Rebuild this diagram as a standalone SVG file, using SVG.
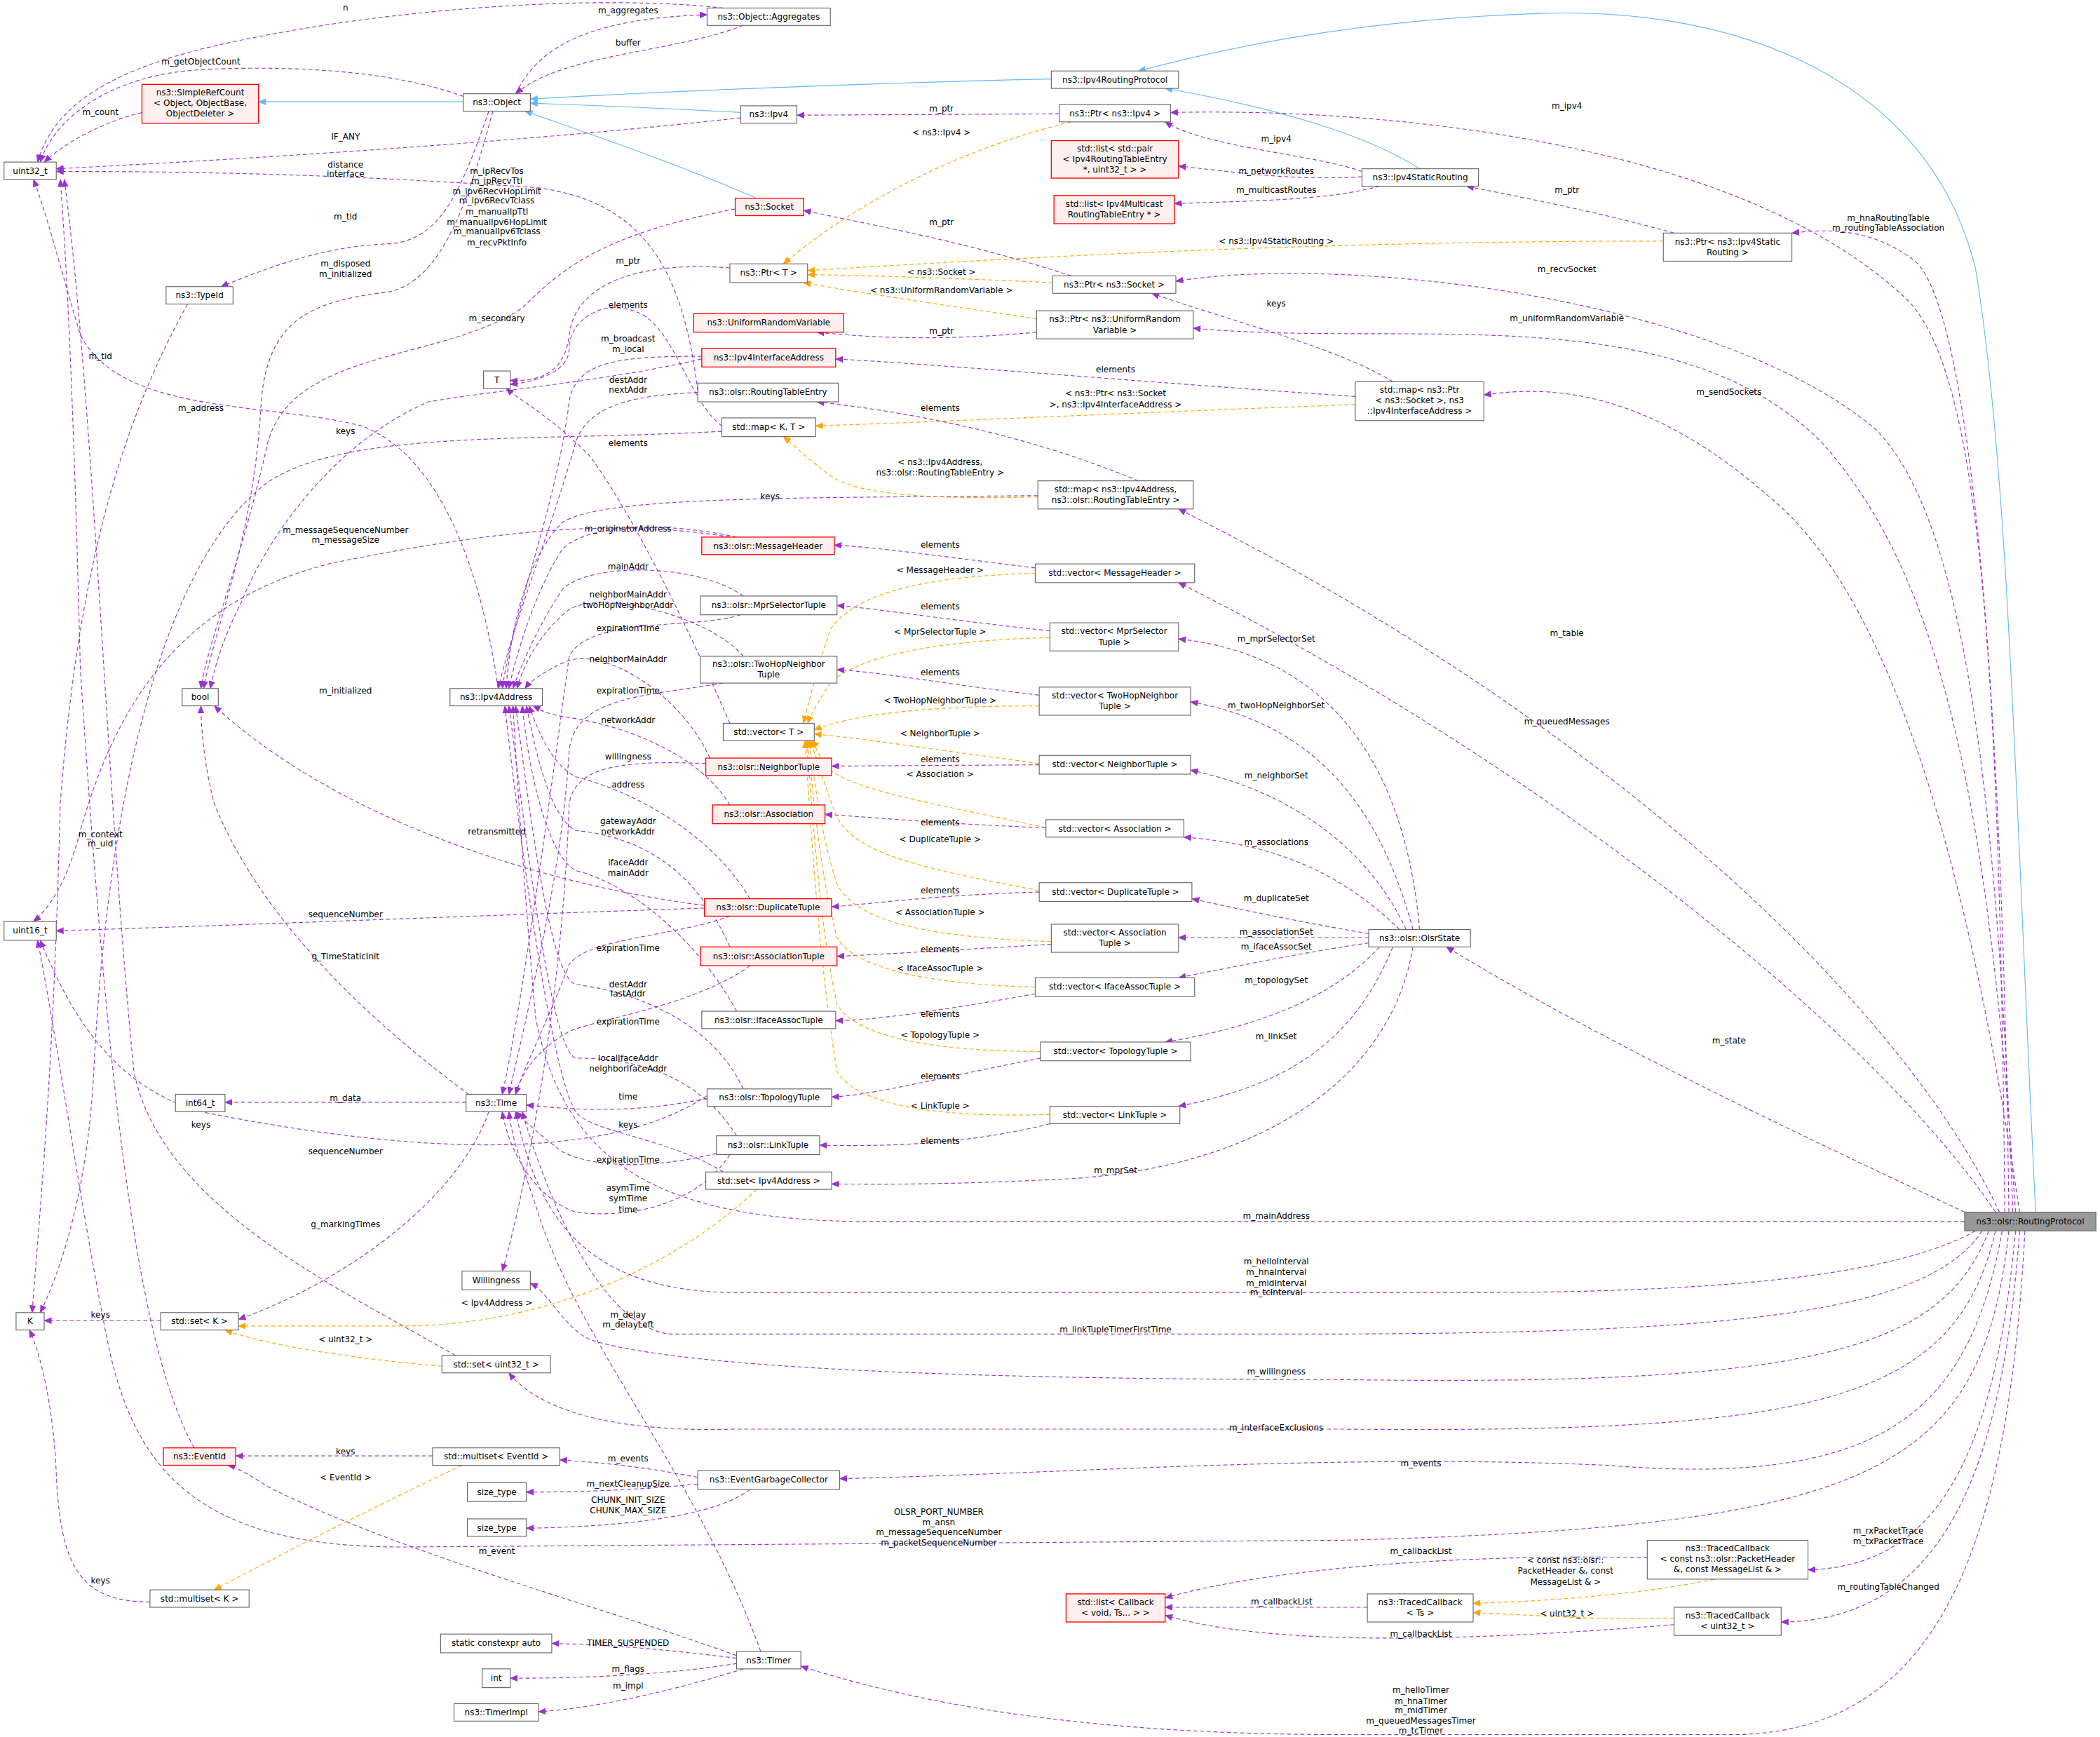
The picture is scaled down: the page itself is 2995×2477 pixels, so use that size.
<svg xmlns="http://www.w3.org/2000/svg" width="2995" height="2477" viewBox="0 0 2995 2477">
<style>
.n rect{fill:#fff;stroke:#666;stroke-width:0.6}
.r rect{fill:#fff0f0;stroke:#f00;stroke-width:0.7}
.g rect{fill:#999;stroke:#666;stroke-width:0.6}
text{font-family:"DejaVu Sans",sans-serif;font-size:6.3px;fill:#000;text-anchor:middle}
.e path{fill:none;stroke-width:0.6}
.p{stroke:#9a32cd;stroke-dasharray:3,2}
.o{stroke:#ffa500;stroke-dasharray:3,2}
.b{stroke:#63b8ff}
</style>
<defs>
<marker id="ap" markerWidth="6" markerHeight="5" refX="5.5" refY="2.5" orient="auto" markerUnits="userSpaceOnUse"><path d="M0,0 L6,2.5 L0,5 Z" fill="#9a32cd"/></marker>
<marker id="ao" markerWidth="6" markerHeight="5" refX="5.5" refY="2.5" orient="auto" markerUnits="userSpaceOnUse"><path d="M0,0 L6,2.5 L0,5 Z" fill="#ffa500"/></marker>
<marker id="ab" markerWidth="6" markerHeight="5" refX="5.5" refY="2.5" orient="auto" markerUnits="userSpaceOnUse"><path d="M0,0 L6,2.5 L0,5 Z" fill="#63b8ff"/></marker>
</defs>
<rect width="2995" height="2477" fill="#fff"/>
<g transform="scale(1.91)">
<g id="edges" class="e">
<path class="b" marker-end="url(#ab)" d="M346,76 L193,76"/>
<path class="b" marker-end="url(#ab)" d="M553,84 C500,81 450,79 396,77"/>
<path class="b" marker-end="url(#ab)" d="M785,59 C650,62 500,68 396,74"/>
<path class="b" marker-end="url(#ab)" d="M565,148 C500,120 440,100 392,83"/>
<path class="b" marker-end="url(#ab)" d="M1060,126 C1020,100 950,80 870,66"/>
<path class="b" marker-end="url(#ab)" d="M1520,905 C1505,600 1500,350 1475,200 C1440,60 1300,5 1150,10 C1000,15 900,40 850,53"/>
<g marker-end="url(#ap)">
<path class="p" d="M540,6 C450,-4 300,5 180,30 C80,50 40,80 28,121"/>
<path class="p" d="M385,70 C400,40 430,14 528,11"/>
<path class="p" d="M555,19 C500,40 420,40 385,70"/>
<path class="p" d="M346,72 C300,55 230,48 150,52 C80,56 40,90 30,121"/>
<path class="p" d="M106,84 C80,90 50,105 33,121"/>
<path class="p" d="M553,88 C400,105 200,118 42,126"/>
<path class="p" d="M521,292 C510,200 480,150 400,140 C250,130 150,128 42,128"/>
<path class="p" d="M365,83 C345,140 330,180 290,182 C240,184 200,200 165,214"/>
<path class="p" d="M368,83 C350,150 330,210 290,218 C230,225 200,240 195,300 C190,400 160,470 152,514"/>
<path class="p" d="M549,156 C450,175 420,200 390,230 C330,270 220,260 200,330 C180,420 155,480 150,514"/>
<path class="p" d="M140,227 C100,300 60,400 45,600 C40,800 30,900 24,980"/>
<path class="p" d="M545,200 C480,195 430,210 425,250 C422,280 400,285 381,284"/>
<path class="p" d="M539,318 C515,300 505,250 480,235 C450,220 425,240 425,260 C425,278 400,285 381,287"/>
<path class="p" d="M545,540 C510,460 470,380 440,340 C410,310 390,300 378,290"/>
<path class="p" d="M524,266 C460,266 430,270 425,300 C415,380 385,450 375,514"/>
<path class="p" d="M521,293 C480,295 440,300 430,330 C410,400 385,460 372,514"/>
<path class="p" d="M524,268 C450,285 380,290 320,300 C250,330 200,400 180,450 C165,480 160,500 157,514"/>
<path class="p" d="M372,514 C360,430 330,340 270,318 C200,300 90,310 60,250 C45,200 35,160 25,134"/>
<path class="p" d="M539,322 C400,330 260,320 200,360 C120,420 80,600 70,800 C65,900 40,960 30,980"/>
<path class="p" d="M775,370 C600,372 450,370 420,390 C390,420 380,480 378,514"/>
<path class="p" d="M550,401 C500,390 440,390 420,410 C400,440 385,490 380,514"/>
<path class="p" d="M545,401 C450,385 350,400 250,420 C120,450 80,550 60,620 C50,660 35,680 25,688"/>
<path class="p" d="M555,445 C520,420 440,420 420,440 C400,470 388,500 383,514"/>
<path class="p" d="M555,490 C530,460 450,440 425,455 C400,475 390,500 386,514"/>
<path class="p" d="M553,459 C520,470 440,460 425,490 C410,600 390,750 375,817"/>
<path class="p" d="M530,566 C510,520 450,480 420,495 C400,505 395,510 392,514"/>
<path class="p" d="M540,510 C480,520 430,520 425,560 C420,650 395,750 380,817"/>
<path class="p" d="M545,601 C520,560 460,540 420,535 C405,532 400,528 398,527"/>
<path class="p" d="M527,570 C470,568 430,570 425,600 C420,750 390,900 375,949"/>
<path class="p" d="M560,671 C530,620 470,590 430,580 C410,570 400,540 395,527"/>
<path class="p" d="M526,676 C400,660 250,610 160,527"/>
<path class="p" d="M545,707 C520,650 480,625 430,620 C410,610 400,560 393,527"/>
<path class="p" d="M550,755 C520,700 470,660 430,650 C410,640 395,580 390,527"/>
<path class="p" d="M526,678 C400,682 200,690 42,695"/>
<path class="p" d="M545,684 C500,700 440,700 425,720 C410,760 390,800 385,817"/>
<path class="p" d="M350,817 C300,780 200,700 160,600 C152,570 150,540 150,527"/>
<path class="p" d="M555,813 C530,760 470,740 430,735 C410,730 395,600 385,527"/>
<path class="p" d="M560,721 C520,750 450,760 425,770 C400,785 390,800 385,817"/>
<path class="p" d="M550,848 C520,800 470,790 430,790 C410,785 390,600 380,527"/>
<path class="p" d="M528,820 C480,830 440,830 393,825"/>
<path class="p" d="M348,823 L168,823"/>
<path class="p" d="M540,875 C500,850 440,845 430,830 C410,800 385,600 377,527"/>
<path class="p" d="M340,1012 C250,960 120,900 100,800 C80,600 70,300 48,134"/>
<path class="p" d="M528,818 C450,870 300,860 150,830 C80,810 50,750 30,702"/>
<path class="p" d="M540,860 C480,875 440,870 420,860 C400,845 390,835 385,830"/>
<path class="p" d="M545,862 C520,900 470,910 430,905 C400,895 380,860 375,830"/>
<path class="p" d="M365,830 C340,900 250,960 178,985"/>
<path class="p" d="M120,986 L33,986"/>
<path class="p" d="M568,1233 C520,1100 430,1000 400,900 C390,870 382,850 380,830"/>
<path class="p" d="M145,1081 C100,1000 80,800 60,500 C55,300 50,200 45,134"/>
<path class="p" d="M323,1087 L176,1087"/>
<path class="p" d="M521,1103 C480,1095 450,1092 418,1090"/>
<path class="p" d="M521,1108 C480,1112 440,1114 393,1114"/>
<path class="p" d="M560,1112 C530,1135 450,1140 393,1141"/>
<path class="p" d="M550,1236 C450,1200 300,1160 200,1110 C185,1100 175,1095 170,1094"/>
<path class="p" d="M112,1196 C60,1196 45,1170 42,1100 C40,1050 30,1010 22,993"/>
<path class="p" d="M550,1238 C500,1232 460,1228 412,1227"/>
<path class="p" d="M550,1242 C500,1250 440,1253 381,1253"/>
<path class="p" d="M555,1246 C510,1260 450,1275 402,1278"/>
<path class="p" d="M791,85 L595,86"/>
<path class="p" d="M1017,128 C980,115 900,110 870,91"/>
<path class="p" d="M1017,132 C960,135 920,128 880,124"/>
<path class="p" d="M1030,139 C990,150 930,150 877,152"/>
<path class="p" d="M1250,174 C1200,160 1150,150 1095,139"/>
<path class="p" d="M800,206 C720,180 660,170 600,157"/>
<path class="p" d="M774,248 C700,255 650,252 610,248"/>
<path class="p" d="M1040,285 C1000,260 920,240 860,219"/>
<path class="p" d="M1012,296 C850,285 700,272 624,268"/>
<path class="p" d="M850,359 C780,330 700,310 610,300"/>
<path class="p" d="M773,424 C700,415 650,408 623,407"/>
<path class="p" d="M784,471 C700,462 660,455 625,452"/>
<path class="p" d="M776,519 C700,510 660,502 625,500"/>
<path class="p" d="M776,571 L621,572"/>
<path class="p" d="M781,618 C700,615 650,610 616,608"/>
<path class="p" d="M776,666 C700,668 650,675 621,677"/>
<path class="p" d="M785,705 C700,710 650,713 625,714"/>
<path class="p" d="M773,742 C700,755 650,762 624,762"/>
<path class="p" d="M777,790 C700,805 650,818 621,819"/>
<path class="p" d="M784,839 C720,855 660,856 612,855"/>
<path class="p" d="M1060,694 C1050,580 1000,490 880,477"/>
<path class="p" d="M1055,694 C1030,600 980,540 889,524"/>
<path class="p" d="M1050,694 C1020,630 960,590 889,575"/>
<path class="p" d="M1045,694 C1000,650 950,630 884,625"/>
<path class="p" d="M1022,697 C980,690 930,680 890,671"/>
<path class="p" d="M1022,700 L880,700"/>
<path class="p" d="M1022,704 C980,710 930,720 880,730"/>
<path class="p" d="M1030,707 C1000,740 950,765 870,778"/>
<path class="p" d="M1040,707 C1010,780 960,810 880,826"/>
<path class="p" d="M1055,707 C1040,800 950,870 800,880 C700,885 660,884 621,884"/>
<path class="p" d="M1497,905 C1493,500 1480,270 1420,220 C1300,110 1050,80 874,84"/>
<path class="p" d="M1500,905 C1495,500 1470,230 1430,195 C1400,172 1370,170 1338,174"/>
<path class="p" d="M1503,905 C1490,550 1460,380 1400,320 C1280,220 1000,190 878,210"/>
<path class="p" d="M1505,905 C1485,600 1450,430 1360,330 C1250,220 1050,260 891,245"/>
<path class="p" d="M1508,905 C1475,680 1420,450 1320,370 C1240,300 1170,285 1108,295"/>
<path class="p" d="M1493,905 C1420,750 1200,540 880,380"/>
<path class="p" d="M1490,905 C1400,770 1150,570 880,435"/>
<path class="p" d="M1467,905 C1350,850 1200,780 1080,707"/>
<path class="p" d="M1467,912 L650,912 C480,912 420,860 400,760 C390,650 385,560 383,527"/>
<path class="p" d="M1475,919 C1420,950 1300,965 1100,965 L550,965 C430,965 400,900 385,830"/>
<path class="p" d="M1480,919 C1440,980 1300,995 1000,996 L500,996 C450,990 410,900 390,830"/>
<path class="p" d="M1485,919 C1450,1010 1350,1035 1000,1030 C700,1030 500,1020 440,1000 C420,990 410,965 396,958"/>
<path class="p" d="M1490,919 C1460,1050 1350,1070 1000,1067 L550,1067 C450,1070 400,1050 380,1025"/>
<path class="p" d="M1495,919 C1470,1060 1400,1110 1200,1094 C1000,1085 800,1100 627,1104"/>
<path class="p" d="M1500,919 C1480,1100 1400,1140 1000,1150 L300,1155 C150,1155 100,1100 80,1000 C60,900 40,760 28,702"/>
<path class="p" d="M1505,919 C1490,1080 1450,1170 1350,1172"/>
<path class="p" d="M1508,919 C1495,1100 1450,1210 1330,1211"/>
<path class="p" d="M1512,919 C1500,1150 1450,1290 1300,1295 L1000,1295 C800,1295 680,1270 598,1244"/>
<path class="p" d="M1230,1163 C1100,1160 950,1170 870,1193"/>
<path class="p" d="M1021,1200 L870,1200"/>
<path class="p" d="M1250,1213 C1100,1225 950,1230 870,1206"/>
</g>
<g marker-end="url(#ao)">
<path class="o" d="M800,91 C720,110 640,150 585,197"/>
<path class="o" d="M1242,180 C1000,180 800,190 603,202"/>
<path class="o" d="M786,211 C720,208 660,206 603,205"/>
<path class="o" d="M774,238 C720,230 650,220 600,211"/>
<path class="o" d="M1012,302 C850,308 700,315 609,318"/>
<path class="o" d="M775,371 C700,373 640,370 620,355 C600,340 590,330 585,326"/>
<path class="o" d="M565,888 C500,950 400,990 300,990 C240,990 200,990 178,990"/>
<path class="o" d="M330,1020 C270,1015 200,1005 168,993"/>
<path class="o" d="M345,1094 C290,1120 230,1150 160,1187"/>
<path class="o" d="M1280,1179 C1230,1190 1150,1196 1100,1197"/>
<path class="o" d="M1250,1208 C1200,1210 1150,1206 1100,1204"/>
<path class="o" d="M773,428 C700,430 640,440 620,470 C610,500 605,520 600,540"/>
<path class="o" d="M784,476 C700,478 640,490 620,510 C610,525 605,535 603,540"/>
<path class="o" d="M776,527 C700,527 640,532 608,545"/>
<path class="o" d="M776,570 C700,560 650,552 608,548"/>
<path class="o" d="M781,618 C700,600 630,590 615,570 C610,560 608,555 606,553"/>
<path class="o" d="M776,665 C700,650 640,640 625,610 C615,585 610,565 605,553"/>
<path class="o" d="M785,703 C700,700 640,690 625,660 C612,620 608,580 604,553"/>
<path class="o" d="M773,737 C700,735 640,725 625,700 C612,650 608,600 603,553"/>
<path class="o" d="M777,785 C700,785 640,775 625,750 C612,690 608,620 602,553"/>
<path class="o" d="M784,832 C700,835 640,825 625,800 C612,720 607,640 601,553"/>
</g>
</g>
<g id="labels">
<text x="258" y="8">n</text><text x="469" y="10">m_aggregates</text><text x="469" y="34">buffer</text>
<text x="150" y="48">m_getObjectCount</text><text x="75" y="86">m_count</text><text x="258" y="104">IF_ANY</text>
<text x="258" y="125">distance</text><text x="258" y="132">interface</text><text x="258" y="164">m_tid</text>
<text x="258" y="199">m_disposed</text><text x="258" y="207">m_initialized</text>
<text x="371" y="130">m_ipRecvTos</text><text x="371" y="137">m_ipRecvTtl</text><text x="371" y="145">m_ipv6RecvHopLimit</text><text x="371" y="152">m_ipv6RecvTclass</text><text x="371" y="160">m_manualIpTtl</text><text x="371" y="168">m_manualIpv6HopLimit</text><text x="371" y="175">m_manualIpv6Tclass</text><text x="371" y="183">m_recvPktInfo</text>
<text x="469" y="197">m_ptr</text><text x="469" y="230">elements</text><text x="371" y="240">m_secondary</text>
<text x="469" y="255">m_broadcast</text><text x="469" y="263">m_local</text><text x="75" y="268">m_tid</text>
<text x="469" y="286">destAddr</text><text x="469" y="293">nextAddr</text><text x="150" y="307">m_address</text>
<text x="258" y="324">keys</text><text x="469" y="333">elements</text><text x="575" y="373">keys</text>
<text x="258" y="398">m_messageSequenceNumber</text><text x="258" y="405">m_messageSize</text><text x="469" y="397">m_originatorAddress</text>
<text x="469" y="425">mainAddr</text><text x="469" y="446">neighborMainAddr</text><text x="469" y="454">twoHopNeighborAddr</text>
<text x="469" y="471">expirationTime</text><text x="469" y="494">neighborMainAddr</text><text x="469" y="518">expirationTime</text>
<text x="258" y="518">m_initialized</text><text x="469" y="540">networkAddr</text><text x="469" y="567">willingness</text>
<text x="469" y="588">address</text><text x="75" y="625">m_context</text><text x="75" y="632">m_uid</text><text x="371" y="623">retransmitted</text>
<text x="469" y="615">gatewayAddr</text><text x="469" y="623">networkAddr</text><text x="469" y="646">ifaceAddr</text><text x="469" y="654">mainAddr</text>
<text x="258" y="685">sequenceNumber</text><text x="469" y="710">expirationTime</text><text x="258" y="716">g_TimeStaticInit</text>
<text x="469" y="737">destAddr</text><text x="469" y="744">lastAddr</text><text x="469" y="765">expirationTime</text>
<text x="469" y="792">localIfaceAddr</text><text x="469" y="800">neighborIfaceAddr</text><text x="469" y="821">time</text>
<text x="258" y="822">m_data</text><text x="150" y="842">keys</text><text x="469" y="842">keys</text><text x="258" y="862">sequenceNumber</text>
<text x="469" y="868">expirationTime</text><text x="469" y="889">asymTime</text><text x="469" y="897">symTime</text><text x="469" y="905">time</text>
<text x="258" y="916">g_markingTimes</text><text x="469" y="984">m_delay</text><text x="469" y="991">m_delayLeft</text>
<text x="75" y="984">keys</text><text x="371" y="975">&lt; Ipv4Address &gt;</text><text x="258" y="1002">&lt; uint32_t &gt;</text>
<text x="258" y="1086">keys</text><text x="469" y="1091">m_events</text><text x="258" y="1105">&lt; EventId &gt;</text>
<text x="469" y="1110">m_nextCleanupSize</text><text x="469" y="1122">CHUNK_INIT_SIZE</text><text x="469" y="1130">CHUNK_MAX_SIZE</text>
<text x="371" y="1160">m_event</text><text x="75" y="1182">keys</text><text x="469" y="1229">TIMER_SUSPENDED</text>
<text x="469" y="1248">m_flags</text><text x="469" y="1261">m_impl</text>
<text x="703" y="83">m_ptr</text><text x="703" y="101">&lt; ns3::Ipv4 &gt;</text><text x="703" y="168">m_ptr</text>
<text x="703" y="205">&lt; ns3::Socket &gt;</text><text x="703" y="219">&lt; ns3::UniformRandomVariable &gt;</text><text x="703" y="249">m_ptr</text>
<text x="702" y="307">elements</text><text x="702" y="347">&lt; ns3::Ipv4Address,</text><text x="702" y="355">ns3::olsr::RoutingTableEntry &gt;</text>
<text x="702" y="409">elements</text><text x="702" y="428">&lt; MessageHeader &gt;</text><text x="702" y="455">elements</text>
<text x="702" y="474">&lt; MprSelectorTuple &gt;</text><text x="702" y="504">elements</text><text x="702" y="525">&lt; TwoHopNeighborTuple &gt;</text>
<text x="702" y="550">&lt; NeighborTuple &gt;</text><text x="702" y="569">elements</text><text x="702" y="580">&lt; Association &gt;</text>
<text x="702" y="616">elements</text><text x="702" y="629">&lt; DuplicateTuple &gt;</text><text x="702" y="667">elements</text>
<text x="702" y="683">&lt; AssociationTuple &gt;</text><text x="702" y="711">elements</text><text x="702" y="725">&lt; IfaceAssocTuple &gt;</text>
<text x="702" y="759">elements</text><text x="702" y="775">&lt; TopologyTuple &gt;</text><text x="702" y="806">elements</text>
<text x="702" y="828">&lt; LinkTuple &gt;</text><text x="702" y="854">elements</text>
<text x="953" y="106">m_ipv4</text><text x="953" y="130">m_networkRoutes</text><text x="953" y="144">m_multicastRoutes</text>
<text x="1170" y="144">m_ptr</text><text x="953" y="182">&lt; ns3::Ipv4StaticRouting &gt;</text><text x="1170" y="81">m_ipv4</text>
<text x="1410" y="165">m_hnaRoutingTable</text><text x="1410" y="172">m_routingTableAssociation</text>
<text x="1170" y="203">m_recvSocket</text><text x="953" y="229">keys</text><text x="1170" y="240">m_uniformRandomVariable</text>
<text x="833" y="278">elements</text><text x="833" y="296">&lt; ns3::Ptr&lt; ns3::Socket</text><text x="833" y="304">&gt;, ns3::Ipv4InterfaceAddress &gt;</text>
<text x="1291" y="295">m_sendSockets</text><text x="1170" y="475">m_table</text><text x="953" y="479">m_mprSelectorSet</text>
<text x="953" y="529">m_twoHopNeighborSet</text><text x="953" y="581">m_neighborSet</text><text x="953" y="631">m_associations</text>
<text x="953" y="673">m_duplicateSet</text><text x="953" y="698">m_associationSet</text><text x="953" y="709">m_ifaceAssocSet</text>
<text x="953" y="734">m_topologySet</text><text x="953" y="776">m_linkSet</text><text x="833" y="876">m_mprSet</text>
<text x="953" y="910">m_mainAddress</text><text x="1170" y="541">m_queuedMessages</text><text x="1291" y="779">m_state</text>
<text x="953" y="944">m_helloInterval</text><text x="953" y="952">m_hnaInterval</text><text x="953" y="960">m_midInterval</text><text x="953" y="967">m_tcInterval</text>
<text x="833" y="995">m_linkTupleTimerFirstTime</text><text x="953" y="1026">m_willingness</text><text x="953" y="1068">m_interfaceExclusions</text>
<text x="1061" y="1095">m_events</text>
<text x="701" y="1131">OLSR_PORT_NUMBER</text><text x="701" y="1139">m_ansn</text><text x="701" y="1146">m_messageSequenceNumber</text><text x="701" y="1154">m_packetSequenceNumber</text>
<text x="1410" y="1145">m_rxPacketTrace</text><text x="1410" y="1153">m_txPacketTrace</text><text x="1410" y="1187">m_routingTableChanged</text>
<text x="1061" y="1264">m_helloTimer</text><text x="1061" y="1272">m_hnaTimer</text><text x="1061" y="1279">m_midTimer</text><text x="1061" y="1287">m_queuedMessagesTimer</text><text x="1061" y="1294">m_tcTimer</text>
<text x="1061" y="1160">m_callbackList</text><text x="957" y="1198">m_callbackList</text><text x="1061" y="1222">m_callbackList</text>
<text x="1169" y="1167">&lt; const ns3::olsr::</text><text x="1169" y="1175">PacketHeader &amp;, const</text><text x="1169" y="1183">MessageList &amp; &gt;</text>
<text x="1170" y="1207">&lt; uint32_t &gt;</text>
</g>
<g id="n_aggr" class="n"><rect x="528" y="6" width="92" height="13"/><text x="574" y="14.7">ns3::Object::Aggregates</text></g>
<g id="n_object" class="n"><rect x="346" y="70" width="50" height="13"/><text x="371" y="78.7">ns3::Object</text></g>
<g id="n_src" class="r"><rect x="106" y="63" width="87" height="29"/><text x="149.5" y="71">ns3::SimpleRefCount</text><text x="149.5" y="79">&lt; Object, ObjectBase,</text><text x="149.5" y="87">ObjectDeleter &gt;</text></g>
<g id="n_u32" class="n"><rect x="3" y="121" width="39" height="13"/><text x="22.5" y="129.7">uint32_t</text></g>
<g id="n_ipv4" class="n"><rect x="553" y="79" width="42" height="13"/><text x="574" y="87.7">ns3::Ipv4</text></g>
<g id="n_socket" class="r"><rect x="549" y="148" width="51" height="13"/><text x="574.5" y="156.7">ns3::Socket</text></g>
<g id="n_typeid" class="n"><rect x="124" y="214" width="50" height="13"/><text x="149" y="222.7">ns3::TypeId</text></g>
<g id="n_ptrT" class="n"><rect x="545" y="197" width="58" height="14"/><text x="574" y="206">ns3::Ptr&lt; T &gt;</text></g>
<g id="n_urv" class="r"><rect x="518" y="234" width="112" height="14"/><text x="574" y="243">ns3::UniformRandomVariable</text></g>
<g id="n_iia" class="r"><rect x="524" y="260" width="100" height="14"/><text x="574" y="269">ns3::Ipv4InterfaceAddress</text></g>
<g id="n_T" class="n"><rect x="361" y="277" width="20" height="13"/><text x="371" y="285.7">T</text></g>
<g id="n_rte" class="n"><rect x="521" y="286" width="105" height="14"/><text x="573.5" y="295">ns3::olsr::RoutingTableEntry</text></g>
<g id="n_mapKT" class="n"><rect x="539" y="312" width="70" height="14"/><text x="574" y="321">std::map&lt; K, T &gt;</text></g>
<g id="n_mh" class="r"><rect x="524" y="401" width="99" height="13"/><text x="573.5" y="409.7">ns3::olsr::MessageHeader</text></g>
<g id="n_mst" class="n"><rect x="523" y="445" width="102" height="14"/><text x="574" y="454">ns3::olsr::MprSelectorTuple</text></g>
<g id="n_thn" class="n"><rect x="523" y="490" width="102" height="20"/><text x="574" y="498">ns3::olsr::TwoHopNeighbor</text><text x="574" y="506">Tuple</text></g>
<g id="n_bool" class="n"><rect x="136" y="514" width="27" height="13"/><text x="149.5" y="522.7">bool</text></g>
<g id="n_ipv4addr" class="n"><rect x="336" y="514" width="69" height="13"/><text x="370.5" y="522.7">ns3::Ipv4Address</text></g>
<g id="n_vecT" class="n"><rect x="540" y="540" width="68" height="13"/><text x="574" y="548.7">std::vector&lt; T &gt;</text></g>
<g id="n_nt" class="r"><rect x="527" y="566" width="94" height="13"/><text x="574" y="574.7">ns3::olsr::NeighborTuple</text></g>
<g id="n_asc" class="r"><rect x="532" y="601" width="84" height="14"/><text x="574" y="610">ns3::olsr::Association</text></g>
<g id="n_u16" class="n"><rect x="3" y="688" width="39" height="14"/><text x="22.5" y="697">uint16_t</text></g>
<g id="n_dt" class="r"><rect x="526" y="671" width="95" height="13"/><text x="573.5" y="679.7">ns3::olsr::DuplicateTuple</text></g>
<g id="n_at" class="r"><rect x="523" y="707" width="102" height="14"/><text x="574" y="716">ns3::olsr::AssociationTuple</text></g>
<g id="n_iat" class="n"><rect x="524" y="755" width="100" height="13"/><text x="574" y="763.7">ns3::olsr::IfaceAssocTuple</text></g>
<g id="n_i64" class="n"><rect x="131" y="817" width="37" height="13"/><text x="149.5" y="825.7">int64_t</text></g>
<g id="n_time" class="n"><rect x="348" y="817" width="45" height="13"/><text x="370.5" y="825.7">ns3::Time</text></g>
<g id="n_tt" class="n"><rect x="528" y="813" width="93" height="13"/><text x="574.5" y="821.7">ns3::olsr::TopologyTuple</text></g>
<g id="n_lt" class="n"><rect x="535" y="848" width="77" height="14"/><text x="573.5" y="857">ns3::olsr::LinkTuple</text></g>
<g id="n_setip" class="n"><rect x="527" y="875" width="94" height="13"/><text x="574" y="883.7">std::set&lt; Ipv4Address &gt;</text></g>
<g id="n_will" class="n"><rect x="345" y="949" width="51" height="14"/><text x="370.5" y="958">Willingness</text></g>
<g id="n_K" class="n"><rect x="12" y="980" width="21" height="13"/><text x="22.5" y="988.7">K</text></g>
<g id="n_setK" class="n"><rect x="120" y="980" width="58" height="13"/><text x="149" y="988.7">std::set&lt; K &gt;</text></g>
<g id="n_setu32" class="n"><rect x="330" y="1012" width="81" height="13"/><text x="370.5" y="1020.7">std::set&lt; uint32_t &gt;</text></g>
<g id="n_eid" class="r"><rect x="122" y="1081" width="54" height="13"/><text x="149" y="1089.7">ns3::EventId</text></g>
<g id="n_mseid" class="n"><rect x="323" y="1081" width="95" height="13"/><text x="370.5" y="1089.7">std::multiset&lt; EventId &gt;</text></g>
<g id="n_egc" class="n"><rect x="521" y="1098" width="106" height="14"/><text x="574" y="1107">ns3::EventGarbageCollector</text></g>
<g id="n_st1" class="n"><rect x="349" y="1107" width="44" height="14"/><text x="371" y="1116">size_type</text></g>
<g id="n_st2" class="n"><rect x="349" y="1134" width="44" height="13"/><text x="371" y="1142.7">size_type</text></g>
<g id="n_msK" class="n"><rect x="112" y="1187" width="74" height="13"/><text x="149" y="1195.7">std::multiset&lt; K &gt;</text></g>
<g id="n_sca" class="n"><rect x="329" y="1220" width="83" height="14"/><text x="370.5" y="1229">static constexpr auto</text></g>
<g id="n_timer" class="n"><rect x="550" y="1233" width="48" height="13"/><text x="574" y="1241.7">ns3::Timer</text></g>
<g id="n_int" class="n"><rect x="360" y="1246" width="21" height="14"/><text x="370.5" y="1255">int</text></g>
<g id="n_timpl" class="n"><rect x="339" y="1272" width="63" height="13"/><text x="370.5" y="1280.7">ns3::TimerImpl</text></g>
<g id="n_irp" class="n"><rect x="785" y="53" width="95" height="13"/><text x="832.5" y="61.7">ns3::Ipv4RoutingProtocol</text></g>
<g id="n_ptripv4" class="n"><rect x="791" y="78" width="83" height="13"/><text x="832.5" y="86.7">ns3::Ptr&lt; ns3::Ipv4 &gt;</text></g>
<g id="n_lpair" class="r"><rect x="785" y="105" width="95" height="28"/><text x="832.5" y="113">std::list&lt; std::pair</text><text x="832.5" y="121">&lt; Ipv4RoutingTableEntry</text><text x="832.5" y="129">*, uint32_t &gt; &gt;</text></g>
<g id="n_lmc" class="r"><rect x="787" y="146" width="90" height="21"/><text x="832" y="154.5">std::list&lt; Ipv4Multicast</text><text x="832" y="162.5">RoutingTableEntry * &gt;</text></g>
<g id="n_isr" class="n"><rect x="1017" y="126" width="87" height="13"/><text x="1060.5" y="134.7">ns3::Ipv4StaticRouting</text></g>
<g id="n_ptrisr" class="n"><rect x="1242" y="174" width="96" height="21"/><text x="1290" y="182.5">ns3::Ptr&lt; ns3::Ipv4Static</text><text x="1290" y="190.5">Routing &gt;</text></g>
<g id="n_ptrsock" class="n"><rect x="786" y="206" width="92" height="13"/><text x="832" y="214.7">ns3::Ptr&lt; ns3::Socket &gt;</text></g>
<g id="n_ptrurv" class="n"><rect x="774" y="232" width="117" height="21"/><text x="832.5" y="240.5">ns3::Ptr&lt; ns3::UniformRandom</text><text x="832.5" y="248.5">Variable &gt;</text></g>
<g id="n_mapsock" class="n"><rect x="1012" y="285" width="96" height="29"/><text x="1060" y="293">std::map&lt; ns3::Ptr</text><text x="1060" y="301">&lt; ns3::Socket &gt;, ns3</text><text x="1060" y="309">::Ipv4InterfaceAddress &gt;</text></g>
<g id="n_mapip" class="n"><rect x="775" y="359" width="116" height="21"/><text x="833" y="367.5">std::map&lt; ns3::Ipv4Address,</text><text x="833" y="375.5">ns3::olsr::RoutingTableEntry &gt;</text></g>
<g id="n_vmh" class="n"><rect x="773" y="421" width="119" height="14"/><text x="832.5" y="430">std::vector&lt; MessageHeader &gt;</text></g>
<g id="n_vmst" class="n"><rect x="784" y="465" width="96" height="21"/><text x="832" y="473.5">std::vector&lt; MprSelector</text><text x="832" y="481.5">Tuple &gt;</text></g>
<g id="n_vthn" class="n"><rect x="776" y="513" width="113" height="21"/><text x="832.5" y="521.5">std::vector&lt; TwoHopNeighbor</text><text x="832.5" y="529.5">Tuple &gt;</text></g>
<g id="n_vnt" class="n"><rect x="776" y="564" width="113" height="14"/><text x="832.5" y="573">std::vector&lt; NeighborTuple &gt;</text></g>
<g id="n_vasc" class="n"><rect x="781" y="612" width="103" height="13"/><text x="832.5" y="620.7">std::vector&lt; Association &gt;</text></g>
<g id="n_vdt" class="n"><rect x="776" y="659" width="114" height="14"/><text x="833" y="668">std::vector&lt; DuplicateTuple &gt;</text></g>
<g id="n_vat" class="n"><rect x="785" y="690" width="95" height="21"/><text x="832.5" y="698.5">std::vector&lt; Association</text><text x="832.5" y="706.5">Tuple &gt;</text></g>
<g id="n_olsr" class="n"><rect x="1022" y="694" width="76" height="13"/><text x="1060" y="702.7">ns3::olsr::OlsrState</text></g>
<g id="n_viat" class="n"><rect x="773" y="730" width="119" height="14"/><text x="832.5" y="739">std::vector&lt; IfaceAssocTuple &gt;</text></g>
<g id="n_vtt" class="n"><rect x="777" y="778" width="112" height="14"/><text x="833" y="787">std::vector&lt; TopologyTuple &gt;</text></g>
<g id="n_vlt" class="n"><rect x="784" y="826" width="97" height="13"/><text x="832.5" y="834.7">std::vector&lt; LinkTuple &gt;</text></g>
<g id="n_rp" class="g"><rect x="1467" y="905" width="98" height="14"/><text x="1516" y="914">ns3::olsr::RoutingProtocol</text></g>
<g id="n_tcph" class="n"><rect x="1230" y="1150" width="120" height="29"/><text x="1290" y="1158">ns3::TracedCallback</text><text x="1290" y="1166">&lt; const ns3::olsr::PacketHeader</text><text x="1290" y="1174">&amp;, const MessageList &amp; &gt;</text></g>
<g id="n_lcb" class="r"><rect x="796" y="1190" width="74" height="21"/><text x="833" y="1198.5">std::list&lt; Callback</text><text x="833" y="1206.5">&lt; void, Ts... &gt; &gt;</text></g>
<g id="n_tcts" class="n"><rect x="1021" y="1190" width="79" height="21"/><text x="1060.5" y="1198.5">ns3::TracedCallback</text><text x="1060.5" y="1206.5">&lt; Ts &gt;</text></g>
<g id="n_tcu32" class="n"><rect x="1250" y="1200" width="80" height="21"/><text x="1290" y="1208.5">ns3::TracedCallback</text><text x="1290" y="1216.5">&lt; uint32_t &gt;</text></g>
</g>
</svg>
